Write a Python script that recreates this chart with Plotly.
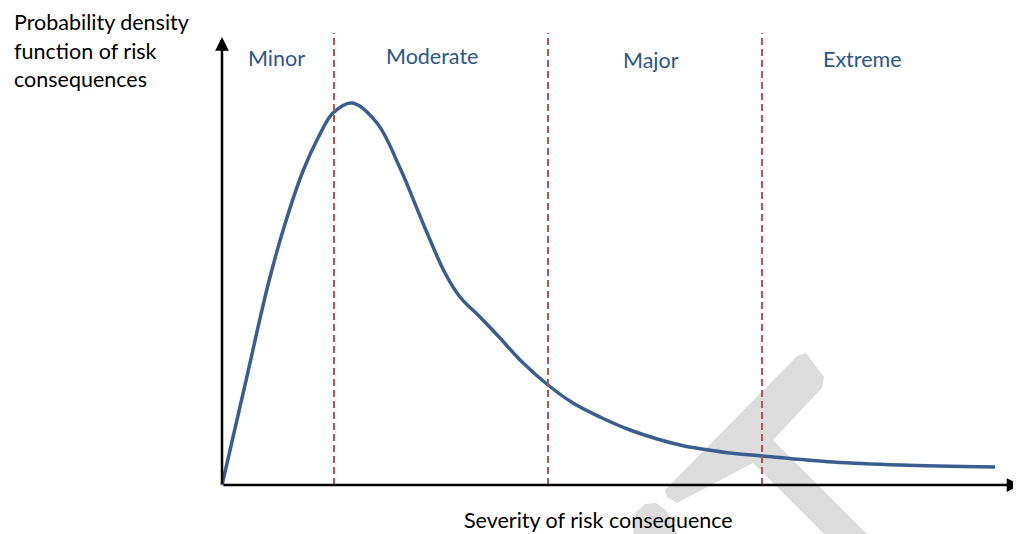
import plotly.graph_objects as go

# ---- data (arbitrary severity / density units) ----
severity = [0, 0.23, 0.46, 0.63, 0.81, 0.96, 1.11, 1.30, 1.55, 1.78, 2.03, 2.23, 2.38,
            2.58, 2.78, 2.98, 3.26, 3.51, 3.78, 4.08, 4.58, 5.08, 5.40, 6.11, 6.78, 7.73]
density = [0, 1.00, 2.00, 2.61, 3.14, 3.47, 3.72, 3.82, 3.62, 3.17, 2.57, 2.12, 1.88,
           1.68, 1.47, 1.25, 1.00, 0.82, 0.68, 0.55, 0.40, 0.32, 0.29, 0.23, 0.20, 0.18]

boundaries = [1.12, 3.26, 5.40]
categories = ["Minor", "Moderate", "Major", "Extreme"]
category_x = [0.545, 2.095, 4.29, 6.40]
category_y = [4.27, 4.29, 4.25, 4.26]

y_title_lines = ["Probability density", "function of risk", "consequences"]
x_title = "Severity of risk consequence"

# decorative grey watermark outlines (background)
wm1_x = [4.43, 5.75, 5.84, 6.02, 6.00, 5.51, 6.45, 6.02, 5.31, 4.55, 4.45]
wm1_y = [-0.05, 1.29, 1.32, 1.08, 0.97, 0.45, -0.49, -0.49, 0.22, -0.18, -0.12]
wm2_x = [4.11, 4.14, 4.23, 4.34, 4.44, 4.55]
wm2_y = [-0.49, -0.27, -0.19, -0.18, -0.25, -0.49]

X_RANGE = [-2.14, 7.99]
Y_RANGE = [-0.49, 4.77]
Y_AXIS_TOP = 4.48
X_AXIS_END = 7.985

CURVE = "#3A5F8F"
TEXT_BLUE = "#2D568A"
RED = "#C0504D"
FONT = "Lato"
FSIZE = 21.5

fig = go.Figure()

def poly(xs, ys):
    p = "M " + " L ".join(f"{x},{y}" for x, y in zip(xs, ys)) + " Z"
    return dict(type="path", path=p, xref="x", yref="y", layer="below",
                fillcolor="#DDDDDD", line=dict(width=0))

shapes = [poly(wm1_x, wm1_y), poly(wm2_x, wm2_y)]
for b in boundaries:
    shapes.append(dict(type="line", xref="x", yref="y", x0=b, x1=b, y0=0, y1=4.52,
                       line=dict(color=RED, width=2, dash="7px,4px"), layer="above"))

fig.add_trace(go.Scatter(x=severity, y=density, mode="lines",
                         line=dict(color=CURVE, width=3.5, shape="spline", smoothing=1.0),
                         hoverinfo="skip"))

ann = []
# axes with arrows
ann.append(dict(x=0, y=Y_AXIS_TOP, ax=0, ay=0, axref="x", ayref="y", xref="x", yref="y",
                text="", showarrow=True, arrowhead=2, arrowsize=1.1, arrowwidth=2.5,
                arrowcolor="black"))
ann.append(dict(x=X_AXIS_END, y=0, ax=0, ay=0, axref="x", ayref="y", xref="x", yref="y",
                text="", showarrow=True, arrowhead=2, arrowsize=1.1, arrowwidth=2.5,
                arrowcolor="black"))
for name, cx, cy in zip(categories, category_x, category_y):
    ann.append(dict(x=cx, y=cy, xref="x", yref="y", text=name, showarrow=False,
                    font=dict(family=FONT, size=FSIZE, color=TEXT_BLUE)))
for i, line in enumerate(y_title_lines):
    ann.append(dict(x=-2.10, y=4.63 - i * 0.285, xref="x", yref="y", text=line,
                    showarrow=False, xanchor="left",
                    font=dict(family=FONT, size=FSIZE, color="black")))
ann.append(dict(x=3.76, y=-0.35, xref="x", yref="y", text=x_title, showarrow=False,
                font=dict(family=FONT, size=FSIZE, color="black")))

fig.update_layout(
    width=1013, height=526, margin=dict(l=0, r=0, t=0, b=0),
    paper_bgcolor="white", plot_bgcolor="white", showlegend=False,
    xaxis=dict(range=X_RANGE, visible=False, fixedrange=True),
    yaxis=dict(range=Y_RANGE, visible=False, fixedrange=True),
    shapes=shapes, annotations=ann,
)
fig.write_html("out.html")
